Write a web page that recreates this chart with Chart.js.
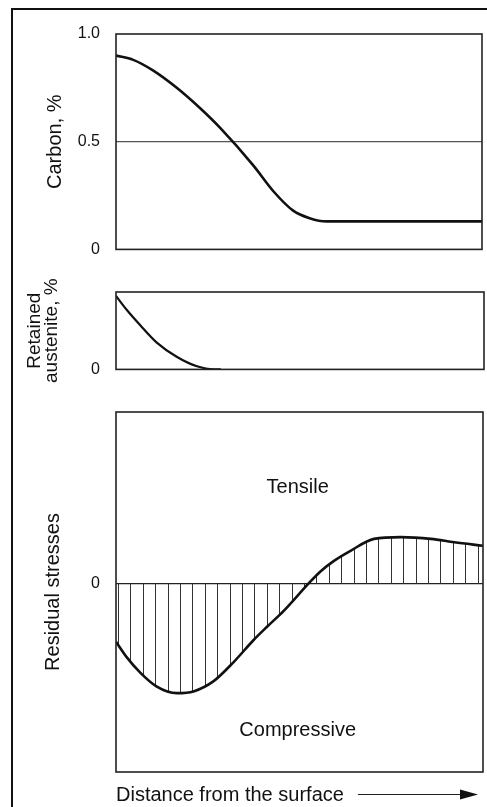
<!DOCTYPE html>
<html>
<head>
<title>Case depth profiles</title>
<script src="https://cdn.jsdelivr.net/npm/chart.js"></script>
<style>
  body { margin: 0; background: #fff; width: 487px; height: 807px; overflow: hidden; position: relative; }
  #frame { position: absolute; left: 11px; top: 8px; width: 600px; height: 900px; border: 2px solid #111; }
  canvas { position: absolute; left: 0; }
</style>
</head>
<body>
<div id="frame"></div>
<canvas id="carbonChart" width="487" height="275" style="top:0px"></canvas>
<canvas id="austeniteChart" width="487" height="133" style="top:262px"></canvas>
<canvas id="stressChart" width="487" height="425" style="top:382px"></canvas>

<script>
// distance from the surface, arbitrary units 0..100
const carbonDist = [0, 4.7, 10.2, 16.6, 23, 28.4, 37.5, 43, 48.4, 52.9, 57.5, 70, 85, 100];
const carbonPct  = [0.9, 0.88, 0.83, 0.75, 0.655, 0.565, 0.39, 0.27, 0.18, 0.145, 0.13, 0.13, 0.13, 0.13];
const carbonTicks = [0, 0.5, 1.0];

const austDist = [0, 2.9, 6.6, 11.0, 16.6, 22.0, 26.5, 28.5];
const austPct  = [0.95, 0.77, 0.57, 0.35, 0.16, 0.04, 0, 0];
const austTicks = [0];

const stressDist = [0, 2.9, 6.6, 11.0, 16.6, 21.1, 26.6, 32.0, 37.5, 41.3, 45.7, 52.5, 55.7, 59.3, 63.9, 70.3, 77.6, 85.8, 92.2, 100];
const stressVal  = [-0.34, -0.43, -0.52, -0.6, -0.64, -0.63, -0.57, -0.46, -0.33, -0.25, -0.16, 0, 0.07, 0.13, 0.19, 0.26, 0.27, 0.26, 0.24, 0.22];
const stressTicks = [0];

const FONT = "'Liberation Sans', Arial, sans-serif";
const INK = '#111';

const toPoints = (xs, ys) => xs.map((x, i) => ({ x, y: ys[i] }));

// box around each plot area
const framePlugin = {
  id: 'frame',
  afterDatasetsDraw(chart) {
    const { ctx, chartArea: a } = chart;
    ctx.save();
    ctx.strokeStyle = '#222';
    ctx.lineWidth = 1.6;
    ctx.strokeRect(a.left, a.top, a.right - a.left, a.bottom - a.top);
    ctx.restore();
  }
};

// vertical hatching, ~12.4px pitch
function hatchPattern() {
  const c = document.createElement('canvas');
  c.width = 62; c.height = 4;
  const g = c.getContext('2d');
  g.strokeStyle = '#333';
  g.lineWidth = 1;
  for (let i = 0; i < 5; i++) {
    const x = (56 + Math.round(i * 12.4)) % 62 + 0.5;
    g.beginPath(); g.moveTo(x, 0); g.lineTo(x, 4); g.stroke();
  }
  return g.createPattern(c, 'repeat');
}

function yScale(min, max, ticks, title, titleOpts, gridAt, gridColor) {
  return {
    min, max,
    afterFit(s) { s.width = 116; },
    afterBuildTicks(s) { s.ticks = ticks.map(v => ({ value: v })); },
    grid: {
      drawTicks: false,
      color: c => (c.tick && c.tick.value === gridAt) ? gridColor : 'transparent',
      lineWidth: 1.2
    },
    border: { display: false },
    ticks: {
      padding: 16, color: INK, font: { family: FONT, size: 16 },
      callback: v => v === 0 ? '0' : v.toFixed(1)
    },
    title: Object.assign({ display: true, text: title, color: INK }, titleOpts)
  };
}

const baseOptions = (padding, yOpts, xOpts) => ({
  responsive: false,
  animation: false,
  events: [],
  layout: { padding },
  plugins: { legend: { display: false }, tooltip: { enabled: false } },
  scales: {
    x: xOpts || { type: 'linear', min: 0, max: 100, display: false },
    y: yOpts
  }
});

// Carbon profile
new Chart(document.getElementById('carbonChart'), {
  type: 'line',
  data: {
    datasets: [{
      data: toPoints(carbonDist, carbonPct),
      borderColor: INK, borderWidth: 2.6, pointRadius: 0,
      cubicInterpolationMode: 'monotone', fill: false
    }]
  },
  options: baseOptions(
    { top: 34, right: 5, bottom: 0, left: 0 },
    yScale(0, 1, carbonTicks, 'Carbon, %',
      { font: { family: FONT, size: 20 }, padding: { top: 43 } }, 0.5, '#555')
  ),
  plugins: [framePlugin]
});

// Retained austenite
new Chart(document.getElementById('austeniteChart'), {
  type: 'line',
  data: {
    datasets: [{
      data: toPoints(austDist, austPct),
      borderColor: INK, borderWidth: 2.2, pointRadius: 0,
      cubicInterpolationMode: 'monotone', fill: false
    }]
  },
  options: baseOptions(
    { top: 30, right: 3, bottom: 0, left: 0 },
    yScale(0, 1, austTicks, ['Retained', 'austenite, %'],
      { font: { family: FONT, size: 19, lineHeight: 0.9 }, padding: { top: 26.5 } }, null, '#000')
  ),
  plugins: [framePlugin]
});

// Tensile / Compressive captions and the distance arrow
const stressNotes = {
  id: 'stressNotes',
  afterDraw(chart) {
    const { ctx, chartArea: a, scales: { x, y } } = chart;
    ctx.save();
    ctx.fillStyle = INK;
    ctx.font = '20px ' + FONT;
    ctx.textAlign = 'center';
    ctx.textBaseline = 'middle';
    ctx.fillText('Tensile', x.getPixelForValue(49.5), y.getPixelForValue(0.56));
    ctx.fillText('Compressive', x.getPixelForValue(49.5), y.getPixelForValue(-0.86));

    const w = ctx.measureText('Distance from the surface').width;
    const ay = x.bottom - 13;
    const x0 = a.left + w + 14, x1 = a.right - 5;
    ctx.strokeStyle = '#222';
    ctx.lineWidth = 1;
    ctx.beginPath(); ctx.moveTo(x0, ay + 0.5); ctx.lineTo(x1 - 10, ay + 0.5); ctx.stroke();
    ctx.beginPath();
    ctx.moveTo(x1, ay + 0.5);
    ctx.lineTo(x1 - 18, ay - 4.5);
    ctx.lineTo(x1 - 18, ay + 5.5);
    ctx.closePath();
    ctx.fill();
    ctx.restore();
  }
};

// Residual stresses
new Chart(document.getElementById('stressChart'), {
  type: 'line',
  data: {
    datasets: [{
      data: toPoints(stressDist, stressVal),
      borderColor: INK, borderWidth: 2.6, pointRadius: 0,
      cubicInterpolationMode: 'monotone',
      fill: 'origin', backgroundColor: hatchPattern()
    }]
  },
  options: baseOptions(
    { top: 30, right: 4, bottom: 0, left: 0 },
    yScale(-1.1, 1, stressTicks, 'Residual stresses',
      { font: { family: FONT, size: 20 }, padding: { top: 41 } }, 0, '#222'),
    {
      type: 'linear', min: 0, max: 100,
      afterFit(s) { s.height = 35; },
      ticks: { display: false },
      grid: { display: false },
      border: { display: false },
      title: {
        display: true, text: 'Distance from the surface', align: 'start',
        color: INK, font: { family: FONT, size: 20 }, padding: 0
      }
    }
  ),
  plugins: [framePlugin, stressNotes]
});
</script>
</body>
</html>
